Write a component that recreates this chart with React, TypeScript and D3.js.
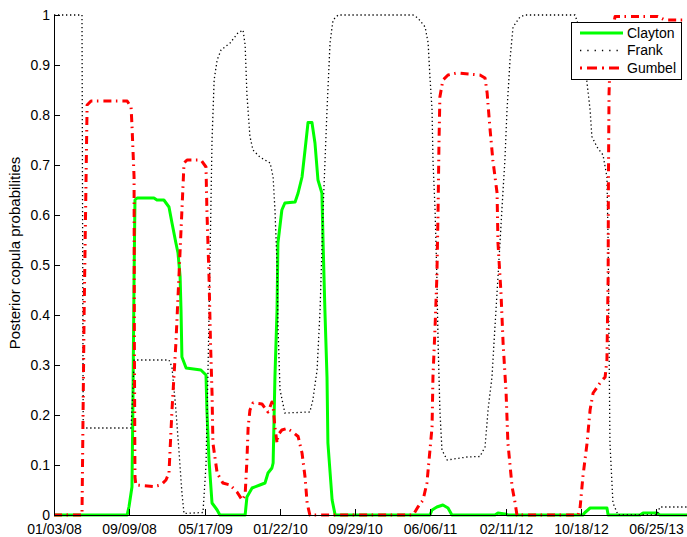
import React, { useEffect, useRef } from "react";
import * as d3 from "d3";

// Days since 01/03/08 and posterior probabilities
const claytonDays = [0, 243, 249, 259, 262, 266, 269, 276, 332, 342, 365, 382, 392, 405, 412, 419, 422, 425, 439, 488, 505, 508, 515, 525, 542, 551, 635, 641, 658, 684, 701, 711, 724, 728, 734, 741, 744, 757, 767, 801, 811, 824, 834, 844, 857, 867, 877, 890, 894, 900, 907, 910, 924, 934, 1249, 1256, 1272, 1292, 1309, 1322, 1465, 1475, 1498, 1508, 1757, 1764, 1781, 1837, 1841, 1947, 1957, 2003, 2013, 2113];
const claytonValues = [0, 0, 0.016, 0.056, 0.21, 0.476, 0.63, 0.634, 0.634, 0.63, 0.63, 0.616, 0.584, 0.544, 0.524, 0.476, 0.41, 0.316, 0.294, 0.29, 0.28, 0.21, 0.11, 0.024, 0.01, 0, 0, 0.036, 0.054, 0.06, 0.064, 0.084, 0.094, 0.104, 0.276, 0.41, 0.544, 0.61, 0.624, 0.626, 0.644, 0.676, 0.73, 0.785, 0.785, 0.744, 0.67, 0.644, 0.544, 0.41, 0.276, 0.144, 0.03, 0, 0, 0.01, 0.016, 0.02, 0.014, 0, 0, 0.004, 0.002, 0, 0, 0.005, 0.014, 0.014, 0, 0, 0.004, 0.004, 0, 0];

const frankDays = [0, 93, 97, 110, 256, 262, 266, 272, 382, 392, 405, 415, 425, 432, 495, 505, 512, 518, 525, 532, 542, 555, 585, 611, 628, 635, 641, 651, 661, 684, 718, 728, 734, 741, 744, 751, 767, 850, 860, 874, 884, 894, 907, 917, 927, 944, 1193, 1209, 1233, 1243, 1249, 1256, 1259, 1266, 1272, 1276, 1282, 1289, 1306, 1372, 1415, 1432, 1442, 1455, 1465, 1475, 1488, 1498, 1505, 1515, 1525, 1548, 1565, 1731, 1748, 1764, 1771, 1781, 1787, 1804, 1824, 1837, 1841, 1844, 1847, 1857, 1874, 2003, 2013, 2113];
const frankValues = [1, 1, 0.174, 0.174, 0.174, 0.25, 0.31, 0.31, 0.31, 0.296, 0.21, 0.13, 0.044, 0.003, 0.005, 0.1, 0.3, 0.5, 0.75, 0.87, 0.91, 0.93, 0.944, 0.964, 0.97, 0.94, 0.84, 0.757, 0.73, 0.716, 0.704, 0.676, 0.61, 0.5, 0.38, 0.25, 0.204, 0.206, 0.23, 0.29, 0.41, 0.61, 0.81, 0.944, 0.99, 1, 1, 0.994, 0.976, 0.944, 0.876, 0.81, 0.71, 0.61, 0.476, 0.344, 0.21, 0.13, 0.11, 0.116, 0.117, 0.136, 0.21, 0.276, 0.376, 0.476, 0.61, 0.71, 0.81, 0.91, 0.976, 0.996, 1, 1, 0.97, 0.9, 0.864, 0.81, 0.757, 0.736, 0.72, 0.676, 0.544, 0.344, 0.144, 0.024, 0, 0, 0.016, 0.016];

const gumbelDays = [0, 93, 100, 110, 123, 243, 256, 259, 266, 267, 269, 272, 332, 355, 372, 382, 392, 405, 415, 425, 432, 442, 488, 505, 508, 515, 520, 525, 528, 542, 561, 585, 608, 625, 635, 641, 645, 651, 661, 691, 701, 711, 724, 728, 734, 741, 744, 757, 774, 791, 811, 824, 834, 841, 850, 1193, 1209, 1226, 1239, 1246, 1256, 1259, 1266, 1272, 1276, 1279, 1282, 1292, 1309, 1339, 1415, 1432, 1439, 1448, 1458, 1472, 1475, 1485, 1492, 1502, 1508, 1522, 1532, 1538, 1741, 1748, 1757, 1771, 1781, 1791, 1814, 1831, 1837, 1841, 1842, 1844, 1850, 1864, 2006, 2030, 2113];
const gumbelValues = [0, 0, 0.4, 0.82, 0.828, 0.828, 0.816, 0.78, 0.676, 0.344, 0.076, 0.06, 0.057, 0.06, 0.07, 0.084, 0.21, 0.344, 0.476, 0.61, 0.704, 0.71, 0.71, 0.696, 0.61, 0.476, 0.344, 0.244, 0.144, 0.084, 0.064, 0.06, 0.046, 0.03, 0.04, 0.11, 0.176, 0.21, 0.224, 0.222, 0.214, 0.206, 0.226, 0.216, 0.176, 0.144, 0.16, 0.17, 0.173, 0.167, 0.157, 0.124, 0.076, 0.024, 0, 0, 0.016, 0.03, 0.064, 0.11, 0.176, 0.276, 0.376, 0.476, 0.61, 0.744, 0.836, 0.87, 0.88, 0.884, 0.88, 0.874, 0.844, 0.776, 0.71, 0.644, 0.544, 0.444, 0.344, 0.244, 0.144, 0.056, 0.024, 0, 0, 0.016, 0.076, 0.144, 0.21, 0.244, 0.264, 0.276, 0.31, 0.476, 0.676, 0.844, 0.95, 0.997, 0.997, 0.99, 0.99];

const xTickDays = [0, 250, 500, 750, 1000, 1250, 1500, 1750, 2000];
const yTicks = [0, 0.1, 0.2, 0.3, 0.4, 0.5, 0.6, 0.7, 0.8, 0.9, 1];
const yTickLabels = ["0", "0.1", "0.2", "0.3", "0.4", "0.5", "0.6", "0.7", "0.8", "0.9", "1"];
const seriesNames = ["Clayton", "Frank", "Gumbel"];

const START = new Date(2008, 0, 3);
const END_DAY = 2110;
const FONT = "'Liberation Sans', Arial, Helvetica, sans-serif";

export default function App() {
  const ref = useRef<SVGSVGElement | null>(null);

  useEffect(() => {
    const svg = d3.select(ref.current);
    svg.selectAll("*").remove();

    const left = 54, bottom = 515, top = 15;
    const pxPerDay = 602 / 2000;
    const x = d3
      .scaleTime()
      .domain([START, d3.timeDay.offset(START, END_DAY)])
      .range([left, left + END_DAY * pxPerDay]);
    const y = d3.scaleLinear().domain([0, 1]).range([bottom, top]);
    const dayToDate = (d: number) => d3.timeDay.offset(START, d);
    const fmt = d3.timeFormat("%m/%d/%y");

    const styles = [
      { color: "#00ff00", width: 3, dash: null as string | null },
      { color: "#000000", width: 1.3, dash: "1.3,2.7" },
      { color: "#ff0000", width: 3, dash: "8,4.5,1.5,5" },
    ];
    const series = [
      { days: claytonDays, values: claytonValues },
      { days: frankDays, values: frankValues },
      { days: gumbelDays, values: gumbelValues },
    ];

    const line = d3
      .line<[number, number]>()
      .x((d) => x(dayToDate(d[0])))
      .y((d) => y(d[1]));

    const g = svg.append("g");

    series.forEach((s, i) => {
      const pts: [number, number][] = s.days.map((d, k) => [d, s.values[k]]);
      const p = g
        .append("path")
        .attr("d", line(pts) as string)
        .attr("fill", "none")
        .attr("stroke", styles[i].color)
        .attr("stroke-width", styles[i].width)
        .attr("stroke-linejoin", "round");
      if (styles[i].dash) p.attr("stroke-dasharray", styles[i].dash as string);
    });

    // axes
    const ax = svg.append("g").attr("font-family", FONT).attr("font-size", 14).attr("fill", "#000");
    ax.append("line").attr("x1", left).attr("x2", 687).attr("y1", bottom + 0.5).attr("y2", bottom + 0.5).attr("stroke", "#000").attr("stroke-width", 1);
    ax.append("line").attr("x1", left + 0.5).attr("x2", left + 0.5).attr("y1", top).attr("y2", bottom + 1).attr("stroke", "#000").attr("stroke-width", 1);

    xTickDays.forEach((d) => {
      const xx = Math.round(x(dayToDate(d))) + 0.5;
      ax.append("line").attr("x1", xx).attr("x2", xx).attr("y1", bottom).attr("y2", bottom - 6).attr("stroke", "#000");
      ax.append("text").attr("x", xx).attr("y", 534).attr("text-anchor", "middle").text(fmt(dayToDate(d)));
    });
    yTicks.forEach((v, i) => {
      const yy = Math.round(y(v)) + 0.5;
      ax.append("line").attr("x1", left).attr("x2", left + 6).attr("y1", yy).attr("y2", yy).attr("stroke", "#000");
      ax.append("text").attr("x", 50).attr("y", yy).attr("dy", "0.35em").attr("text-anchor", "end").text(yTickLabels[i]);
    });

    ax.append("text")
      .attr("transform", "translate(20,253) rotate(-90)")
      .attr("text-anchor", "middle")
      .attr("font-size", 15)
      .text("Posterior copula probabilities");

    // legend
    const lg = svg.append("g").attr("font-family", FONT).attr("font-size", 14);
    lg.append("rect").attr("x", 571.5).attr("y", 22.5).attr("width", 110).attr("height", 57).attr("fill", "#fff").attr("stroke", "#000").attr("stroke-width", 1);
    seriesNames.forEach((name, i) => {
      const ly = 33 + i * 17.5;
      const l = lg.append("line").attr("x1", 580).attr("x2", 623).attr("y1", ly).attr("y2", ly)
        .attr("stroke", styles[i].color).attr("stroke-width", styles[i].width);
      if (styles[i].dash) l.attr("stroke-dasharray", i === 1 ? "1.3,6" : "2,5,10,5");
      lg.append("text").attr("x", 627).attr("y", ly).attr("dy", "0.35em").text(name);
    });
  }, []);

  return (
    <svg
      ref={ref}
      width={687}
      height={537}
      style={{ position: "absolute", left: 0, top: 0, background: "#fff" }}
    />
  );
}
